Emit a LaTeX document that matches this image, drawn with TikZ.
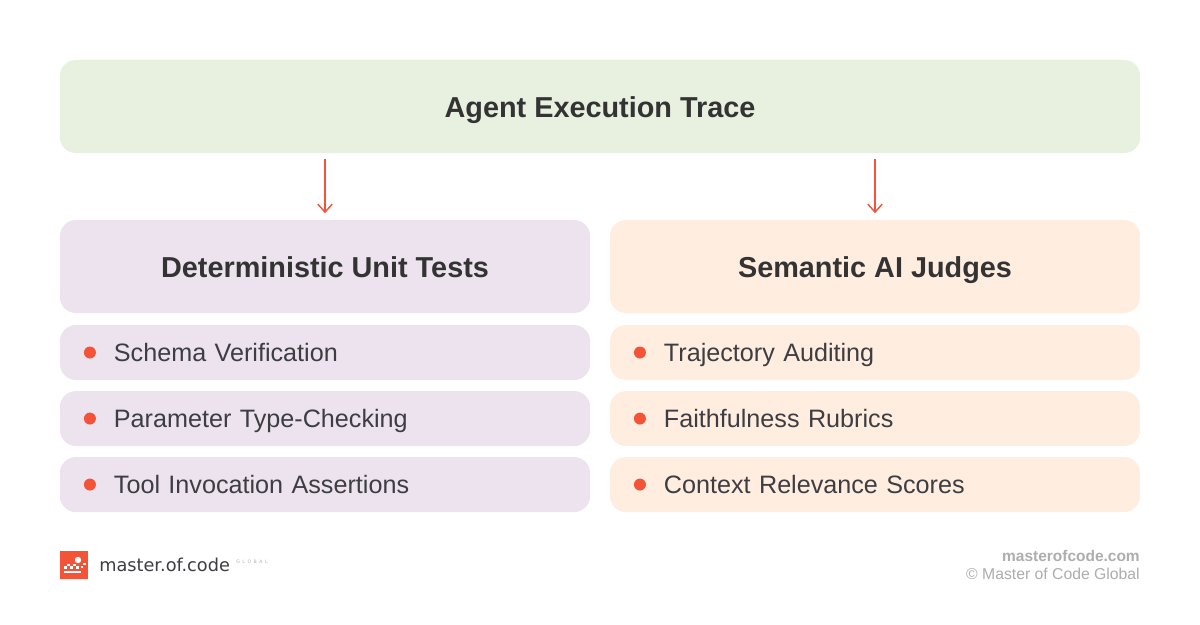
\documentclass[tikz,border=0pt]{standalone}
\usepackage{fontspec}
\setmainfont{Liberation Sans}
\newfontfamily\logofont{DejaVu Sans}
\usetikzlibrary{calc,positioning,arrows.meta}
\definecolor{traceGreen}{HTML}{E8F1E0}
\definecolor{detPurple}{HTML}{ECE3EF}
\definecolor{semOrange}{HTML}{FFEEE0}
\definecolor{mocRed}{HTML}{F45338}
\definecolor{inkDark}{HTML}{333333}
\definecolor{inkItem}{HTML}{3D3D42}
\definecolor{inkGrey}{HTML}{ADADAD}
\tikzset{
  panel/.style={rounded corners=0.4cm,inner sep=0pt,outer sep=0pt,text=inkDark,text height=0.55cm,text depth=0cm},
  headbox/.style={panel,minimum width=13.25cm,minimum height=2.325cm,font=\fontsize{20.5}{24}\selectfont\bfseries},
  itembox/.style={panel,minimum width=13.25cm,minimum height=1.375cm,text width=10.55cm,align=left,
    text height=0.5cm,text depth=0.05cm,text=inkItem,font=\fontsize{17.9}{21}\selectfont},
  dotmark/.style={circle,fill=mocRed,minimum size=0.3cm,inner sep=0pt},
  flow/.style={draw=mocRed,line width=1pt,-{Straight Barb[length=0.2cm,width=0.36cm]},shorten <=0.15cm,shorten >=0.17cm},
  footline/.style={inner sep=0pt,anchor=east}
}
\begin{document}
\begin{tikzpicture}[x=0.025cm,y=-0.025cm]
    \useasboundingbox (0,0) rectangle (1200,624);
    \node[panel,fill=traceGreen,minimum width=27cm,minimum height=2.325cm,font=\fontsize{20.5}{24}\selectfont\bfseries] (trace) at (600,106.5) {Agent Execution Trace};
    \node[headbox,fill=detPurple] (det) at (325,266.5) {Deterministic Unit Tests};
    \node[headbox,fill=semOrange] (sem) at (875,266.5) {Semantic AI Judges};
    % item rows
    \node[itembox,fill=detPurple,below=0.3cm of det] (detA) {Schema Verification};
    \node[itembox,fill=detPurple,below=0.275cm of detA] (detB) {Parameter Type-Checking};
    \node[itembox,fill=detPurple,below=0.275cm of detB] (detC) {Tool Invocation Assertions};
    \node[itembox,fill=semOrange,below=0.3cm of sem] (semA) {Trajectory Auditing};
    \node[itembox,fill=semOrange,below=0.275cm of semA] (semB) {Faithfulness Rubrics};
    \node[itembox,fill=semOrange,below=0.275cm of semB] (semC) {Context Relevance Scores};
    \foreach \n in {detA,detB,detC,semA,semB,semC}
      \node[dotmark] (\n dot) at ($(\n.west)+(30,0)$) {};
    \draw[flow] (det |- trace.south) -- (det.north);
    \draw[flow] (sem |- trace.south) -- (sem.north);
    % logo
    \node[fill=mocRed,minimum size=0.7cm,inner sep=0pt,outer sep=0pt] (logo) at (74,565) {};
    \foreach \x/\y in {64/566,67/563.5,70/566,73/563.5,76/566,83/562.5,80.5/565.5}
      \fill[white] (\x,\y) rectangle ++(2.8,2.8);
    \fill[white] (78,560) circle[radius=3.2];
    \fill[white] (64,571) rectangle (81,573);
    \node[anchor=west,inner sep=0pt,text=inkItem,font=\logofont\fontsize{12.6}{16}\selectfont] (brand) at (99,564.5) {master.of.code};
    \node[anchor=west,inner sep=0pt,text=inkGrey,font=\logofont\fontsize{3.3}{4}\selectfont] (brandsub) at (236,561.5) {G\hspace{1.8pt}L\hspace{1.8pt}O\hspace{1.8pt}B\hspace{1.8pt}A\hspace{1.8pt}L};
    % footer
    \node[footline,text=inkGrey,font=\fontsize{11}{13}\selectfont\bfseries] (site) at (1140,556) {masterofcode.com};
    \node[footline,text=inkGrey,font=\fontsize{11.2}{13}\selectfont] (copy) at (1140,574) {© Master of Code Global};
  \end{tikzpicture}
\end{document}
